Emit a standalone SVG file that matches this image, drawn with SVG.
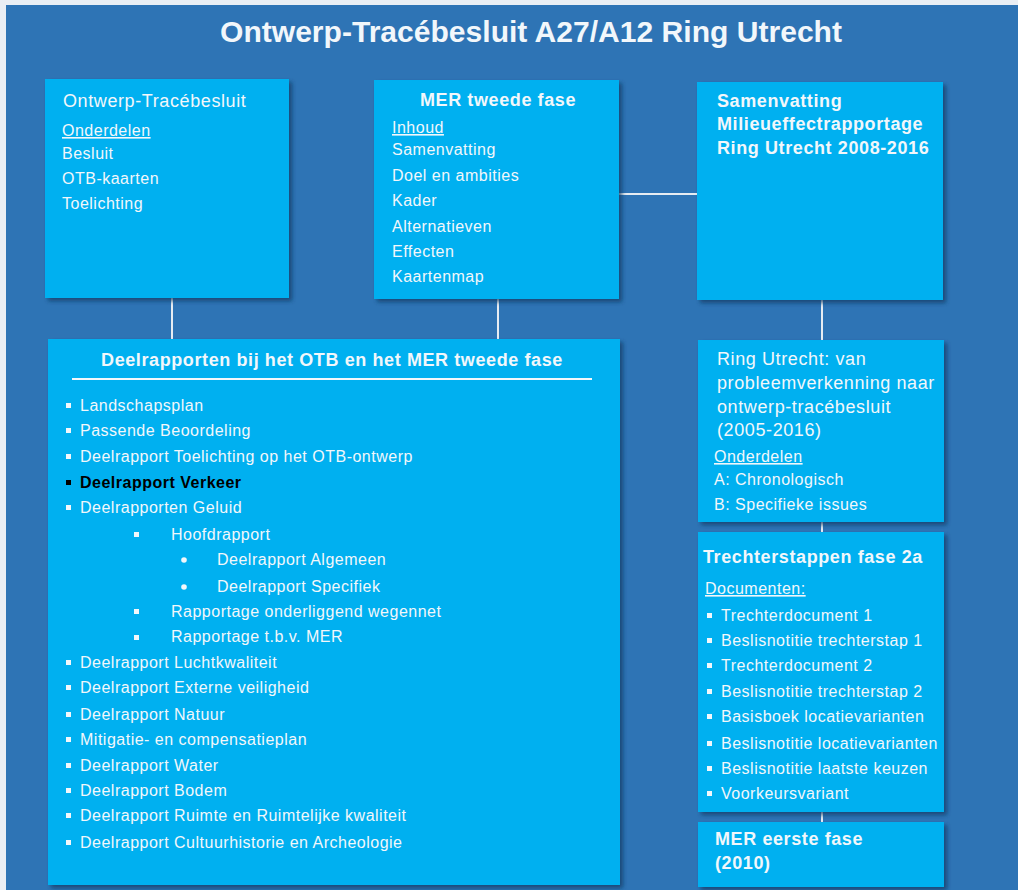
<svg xmlns="http://www.w3.org/2000/svg" width="1018" height="890" viewBox="0 0 1018 890">
<defs>
<filter id="sh" x="-5%" y="-5%" width="115%" height="115%">
<feDropShadow dx="3" dy="3" stdDeviation="2" flood-color="#163a63" flood-opacity="0.75"/>
</filter>
</defs>
<style>
.box{fill:#00B0F0;filter:url(#sh)}
.t{font-family:"Liberation Sans",Arial,sans-serif;fill:#F2F7FB}
.s15{font-size:16px;letter-spacing:0.5px}
.s17{font-size:18px;letter-spacing:0.6px}
.b{font-weight:bold}
.u{text-decoration:underline}
.con line{stroke:#E6ECF2;stroke-width:2}
.sq{fill:#F2F7FB}
</style>
<rect x="0" y="0" width="1018" height="890" fill="#E9EEF4"/>
<rect x="6" y="5" width="1012" height="885" fill="#2E74B5"/>
<text class="t b" x="531" y="42" font-size="30" text-anchor="middle" textLength="622" lengthAdjust="spacingAndGlyphs">Ontwerp-Tracébesluit A27/A12 Ring Utrecht</text>

<g class="con">
<line x1="172" y1="298" x2="172" y2="340"/>
<line x1="498" y1="299" x2="498" y2="340"/>
<line x1="619" y1="194" x2="697" y2="194"/>
<line x1="822" y1="300" x2="822" y2="340"/>
<line x1="822" y1="522" x2="822" y2="532"/>
<line x1="822" y1="812" x2="822" y2="822"/>
</g>

<g id="otb">
<rect class="box" x="45" y="79" width="244" height="219"/>
<text class="t s17" x="63" y="107">Ontwerp-Tracébesluit</text>
<text class="t s15 u" x="62" y="136">Onderdelen</text>
<text class="t s15" x="62" y="159">Besluit</text>
<text class="t s15" x="62" y="184">OTB-kaarten</text>
<text class="t s15" x="62" y="209">Toelichting</text>
</g>

<g id="mer2">
<rect class="box" x="374" y="80" width="245" height="219"/>
<text class="t s17 b" x="498" y="106" text-anchor="middle">MER tweede fase</text>
<text class="t s15 u" x="392" y="133">Inhoud</text>
<text class="t s15" x="392" y="155">Samenvatting</text>
<text class="t s15" x="392" y="181">Doel en ambities</text>
<text class="t s15" x="392" y="206">Kader</text>
<text class="t s15" x="392" y="232">Alternatieven</text>
<text class="t s15" x="392" y="257">Effecten</text>
<text class="t s15" x="392" y="282">Kaartenmap</text>
</g>

<g id="samenvatting">
<rect class="box" x="697" y="82" width="246" height="218"/>
<text class="t s17 b" x="717" y="107">Samenvatting</text>
<text class="t s17 b" x="717" y="130">Milieueffectrapportage</text>
<text class="t s17 b" x="717" y="154">Ring Utrecht 2008-2016</text>
</g>

<g id="deelrapporten">
<rect class="box" x="48" y="339" width="572" height="546"/>
<text class="t s17 b" x="332" y="366" text-anchor="middle">Deelrapporten bij het OTB en het MER tweede fase</text>
<line x1="72" y1="379" x2="592" y2="379" stroke="#F2F7FB" stroke-width="2"/>
<g class="sq">
<rect x="66" y="403" width="5" height="5"/>
<rect x="66" y="428" width="5" height="5"/>
<rect x="66" y="454" width="5" height="5"/>
<rect x="66" y="480" width="5" height="5" fill="#000"/>
<rect x="66" y="505" width="5" height="5"/>
<rect x="134" y="532" width="5" height="5"/>
<circle cx="184" cy="560" r="2.8"/>
<circle cx="184" cy="587" r="2.8"/>
<rect x="134" y="609" width="5" height="5"/>
<rect x="134" y="635" width="5" height="5"/>
<rect x="66" y="660" width="5" height="5"/>
<rect x="66" y="685" width="5" height="5"/>
<rect x="66" y="712" width="5" height="5"/>
<rect x="66" y="737" width="5" height="5"/>
<rect x="66" y="763" width="5" height="5"/>
<rect x="66" y="788" width="5" height="5"/>
<rect x="66" y="813" width="5" height="5"/>
<rect x="66" y="840" width="5" height="5"/>
</g>
<text class="t s15" x="80" y="411">Landschapsplan</text>
<text class="t s15" x="80" y="436">Passende Beoordeling</text>
<text class="t s15" x="80" y="462">Deelrapport Toelichting op het OTB-ontwerp</text>
<text class="t s15 b" x="80" y="488" style="fill:#000">Deelrapport Verkeer</text>
<text class="t s15" x="80" y="513">Deelrapporten Geluid</text>
<text class="t s15" x="171" y="540">Hoofdrapport</text>
<text class="t s15" x="217" y="565">Deelrapport Algemeen</text>
<text class="t s15" x="217" y="592">Deelrapport Specifiek</text>
<text class="t s15" x="171" y="617">Rapportage onderliggend wegennet</text>
<text class="t s15" x="171" y="642">Rapportage t.b.v. MER</text>
<text class="t s15" x="80" y="668">Deelrapport Luchtkwaliteit</text>
<text class="t s15" x="80" y="693">Deelrapport Externe veiligheid</text>
<text class="t s15" x="80" y="720">Deelrapport Natuur</text>
<text class="t s15" x="80" y="745">Mitigatie- en compensatieplan</text>
<text class="t s15" x="80" y="771">Deelrapport Water</text>
<text class="t s15" x="80" y="796">Deelrapport Bodem</text>
<text class="t s15" x="80" y="821">Deelrapport Ruimte en Ruimtelijke kwaliteit</text>
<text class="t s15" x="80" y="848">Deelrapport Cultuurhistorie en Archeologie</text>
</g>

<g id="ringutrecht">
<rect class="box" x="698" y="340" width="246" height="182"/>
<text class="t s17" x="717" y="365">Ring Utrecht: van</text>
<text class="t s17" x="717" y="389">probleemverkenning naar</text>
<text class="t s17" x="717" y="413">ontwerp-tracébesluit</text>
<text class="t s17" x="717" y="436">(2005-2016)</text>
<text class="t s15 u" x="714" y="462">Onderdelen</text>
<text class="t s15" x="714" y="485">A: Chronologisch</text>
<text class="t s15" x="714" y="510">B: Specifieke issues</text>
</g>

<g id="trechterstappen">
<rect class="box" x="698" y="532" width="246" height="280"/>
<text class="t s17 b" x="703" y="563">Trechterstappen fase 2a</text>
<text class="t s15 u" x="705" y="594">Documenten:</text>
<g class="sq">
<rect x="707" y="613" width="5" height="5"/>
<rect x="707" y="638" width="5" height="5"/>
<rect x="707" y="663" width="5" height="5"/>
<rect x="707" y="689" width="5" height="5"/>
<rect x="707" y="714" width="5" height="5"/>
<rect x="707" y="741" width="5" height="5"/>
<rect x="707" y="766" width="5" height="5"/>
<rect x="707" y="791" width="5" height="5"/>
</g>
<text class="t s15" x="721" y="621">Trechterdocument 1</text>
<text class="t s15" x="721" y="646">Beslisnotitie trechterstap 1</text>
<text class="t s15" x="721" y="671">Trechterdocument 2</text>
<text class="t s15" x="721" y="697">Beslisnotitie trechterstap 2</text>
<text class="t s15" x="721" y="722">Basisboek locatievarianten</text>
<text class="t s15" x="721" y="749">Beslisnotitie locatievarianten</text>
<text class="t s15" x="721" y="774">Beslisnotitie laatste keuzen</text>
<text class="t s15" x="721" y="799">Voorkeursvariant</text>
</g>

<g id="mer1">
<rect class="box" x="698" y="822" width="246" height="65"/>
<text class="t s17 b" x="715" y="845">MER eerste fase</text>
<text class="t s17 b" x="715" y="869">(2010)</text>
</g>
</svg>
